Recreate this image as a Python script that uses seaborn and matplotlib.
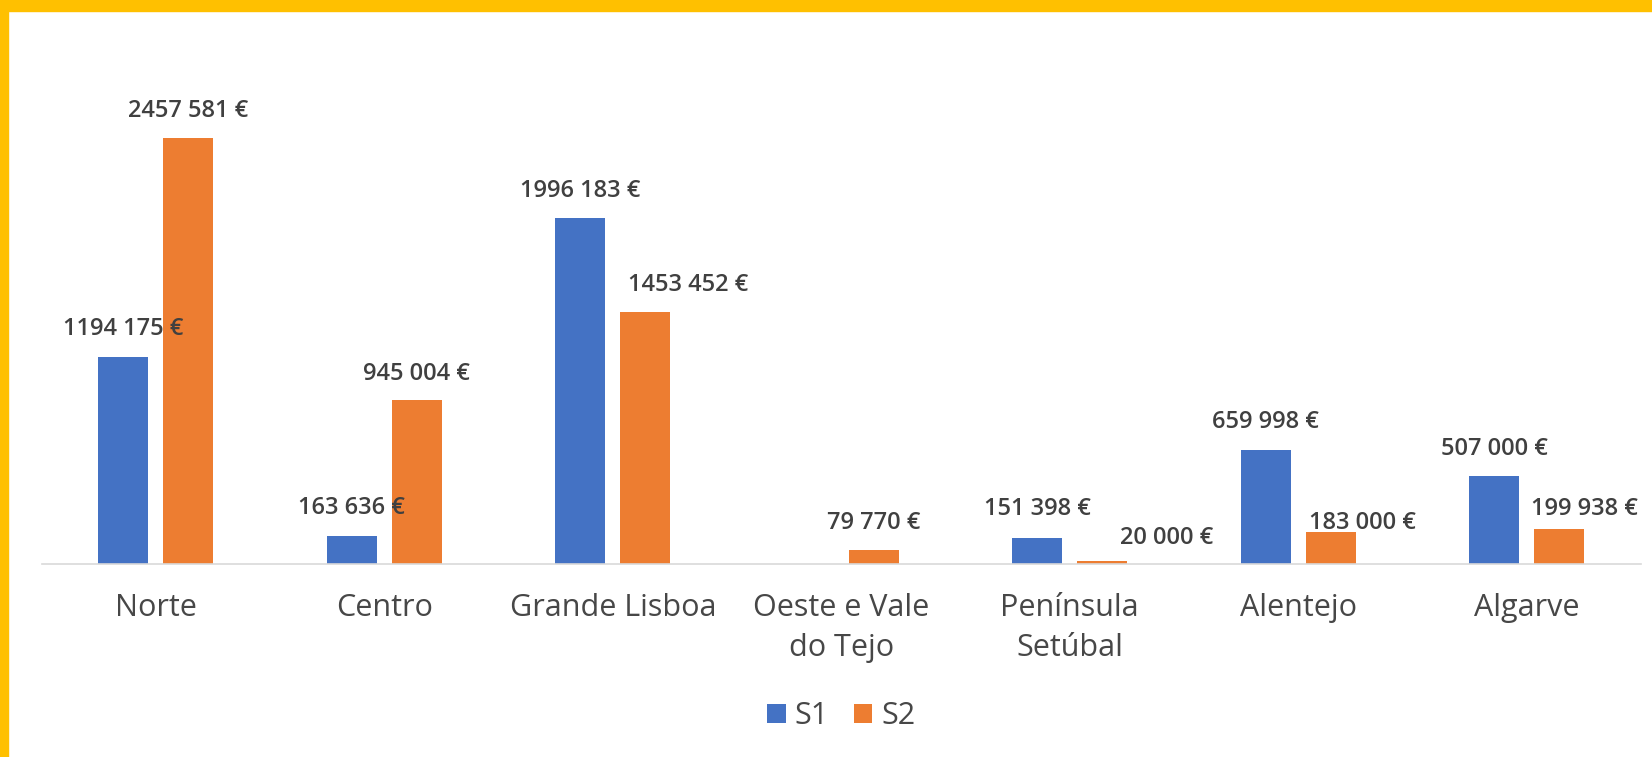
import numpy as np
import pandas as pd
import matplotlib
matplotlib.use("Agg")
import matplotlib.pyplot as plt
from matplotlib.patches import Rectangle
import seaborn as sns

# ── Data ──────────────────────────────────────────────────────────────────────
regions = ["Norte", "Centro", "Grande Lisboa", "Oeste e Vale\ndo Tejo",
           "Península\nSetúbal", "Alentejo", "Algarve"]
s1 = [1194175, 163636, 1996183, np.nan, 151398, 659998, 507000]
s2 = [2457581, 945004, 1453452, 79770, 20000, 183000, 199938]
series = ["S1", "S2"]

# label nudges in pixels (dx, dy of label centre above bar top)
s1_nudge = [(0, 28), (0, 28), (0, 27), (0, 0), (0, 29), (0, 28), (0, 27)]
s2_nudge = [(0, 27), (0, 26), (43, 27), (0, 27), (64, 23), (32, 9), (25, 20)]

# ── Style ─────────────────────────────────────────────────────────────────────
sns.set_theme(style="white")
plt.rcParams["font.family"] = ["Open Sans", "DejaVu Sans"]

BLUE, ORANGE = "#4472C4", "#ED7D31"
YELLOW = "#FFC000"

df = pd.DataFrame({
    "region": regions * 2,
    "value": s1 + s2,
    "series": ["S1"] * len(regions) + ["S2"] * len(regions),
})

W, H = 1652, 757
fig = plt.figure(figsize=(W / 100, H / 100), dpi=100)
ax = fig.add_axes([41.5 / W, (H - 564) / H, 1599.5 / W, 485.4 / H])

sns.barplot(data=df, x="region", y="value", hue="series", hue_order=series,
            palette=[BLUE, ORANGE], saturation=1, width=0.572, gap=0.234,
            order=regions, ax=ax, linewidth=0)

ax.set_ylim(0, 2.8e6)
ax.set_xlim(-0.5, len(regions) - 0.5)


def euro(v):
    s = f"{v:.0f}"
    return (s[:-3] + " " + s[-3:] if len(s) > 3 else s) + " €"


for container, nudges in zip(ax.containers, [s1_nudge, s2_nudge]):
    for bar in container:
        h = bar.get_height()
        if not np.isfinite(h) or h <= 0:
            continue
        xc = bar.get_x() + bar.get_width() / 2
        i = int(round(xc))
        dx, dy = nudges[i]
        ax.annotate(euro(h), (xc, h), xytext=(dx * 0.72, dy * 0.72),
                    textcoords="offset points", ha="center", va="center",
                    fontsize=17, fontweight="semibold", color="#404040",
                    zorder=5)

# axes cosmetics
for side in ["left", "right", "top"]:
    ax.spines[side].set_visible(False)
ax.spines["bottom"].set_color("#D9D9D9")
ax.spines["bottom"].set_linewidth(1.2)
ax.set_yticks([])
ax.set_xlabel("")
ax.set_ylabel("")
ax.tick_params(axis="x", length=0, pad=21, labelsize=22, labelcolor="#474747")
for t in ax.get_xticklabels():
    t.set_linespacing(1.42)

handles, labels = ax.get_legend_handles_labels()
ax.legend(handles, labels, loc="center",
          bbox_to_anchor=(0.5, -(716 - 564) / 485.4),
          bbox_transform=ax.transAxes, ncol=2, frameon=False,
          prop={"size": 22},
          handlelength=0.6, handleheight=0.6, handletextpad=0.3,
          columnspacing=0.8, labelcolor="#474747")

# yellow frame
fig.patches.append(Rectangle((0, 1 - 11 / H), 1, 11 / H, transform=fig.transFigure,
                             color=YELLOW, zorder=10))
fig.patches.append(Rectangle((0, 0), 8 / W, 1, transform=fig.transFigure,
                             color=YELLOW, zorder=10))

fig.savefig("out.png", dpi=100)
